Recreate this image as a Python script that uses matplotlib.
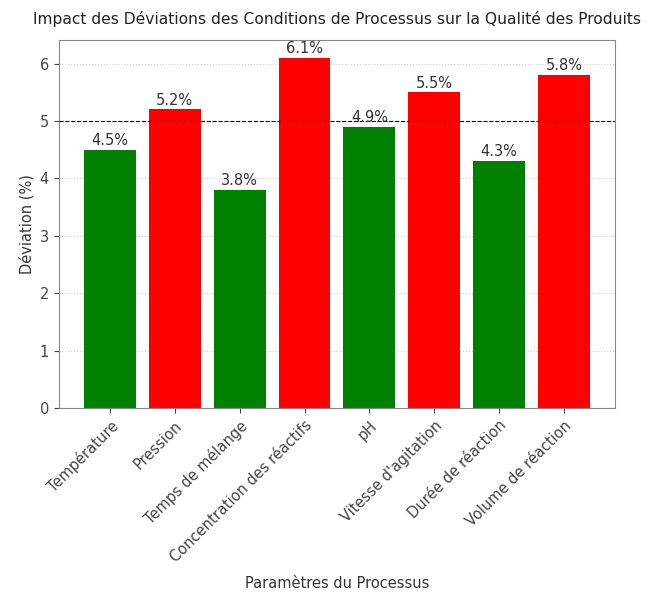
import matplotlib
matplotlib.use("Agg")
import matplotlib.pyplot as plt

plt.rcParams['font.family'] = ['DejaVu Sans']

parametres = ["Température", "Pression", "Temps de mélange", "Concentration des réactifs",
              "pH", "Vitesse d'agitation", "Durée de réaction", "Volume de réaction"]
deviations = [4.5, 5.2, 3.8, 6.1, 4.9, 5.5, 4.3, 5.8]
seuil = 5

couleurs = ["red" if d > seuil else "green" for d in deviations]

fig, ax = plt.subplots(figsize=(6.53, 6.01), dpi=100)
fig.subplots_adjust(left=0.09, right=0.942, top=0.933, bottom=0.321)

bars = ax.bar(parametres, deviations, color=couleurs, zorder=2)
ax.axhline(seuil, color="black", linestyle="--", linewidth=0.8, zorder=3)

for b, d in zip(bars, deviations):
    ax.text(b.get_x() + b.get_width() / 2, d + 0.03, f"{d}%", ha="center", va="bottom",
            fontsize=10.5, color="#333333")

ax.grid(axis="y", color="#cccccc", linestyle=":", linewidth=0.8, zorder=0)
for s in ax.spines.values():
    s.set_color("#888888")
ax.tick_params(colors="#444444", labelsize=10.5)
plt.xticks(rotation=45, ha="right", rotation_mode="anchor")
ax.set_ylabel("Déviation (%)", fontsize=10.5, color="#333333")
ax.set_xlabel("Paramètres du Processus", fontsize=10.5, color="#333333", labelpad=8)
ax.set_title("Impact des Déviations des Conditions de Processus sur la Qualité des Produits",
             fontsize=11.2, color="#222222", pad=12)

plt.savefig("out.png")
